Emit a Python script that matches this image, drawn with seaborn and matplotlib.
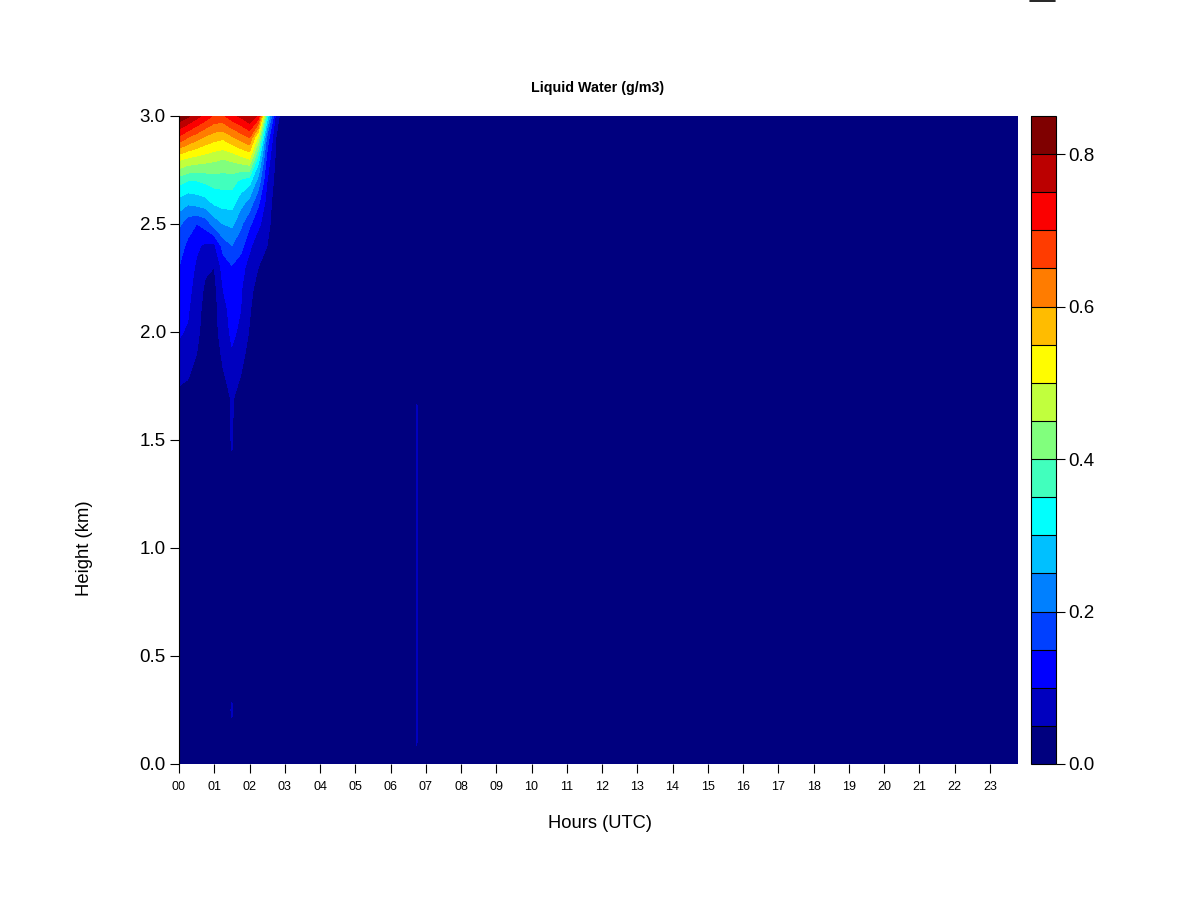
import numpy as np
import matplotlib
matplotlib.use("Agg")
import matplotlib.pyplot as plt
from matplotlib.lines import Line2D
import seaborn as sns

# ---- data ----
# time axis (hours UTC) of the cloud part, then the thin streak near 06:45, then end of day
cloud_times = [0.0, 0.25, 0.5, 0.75, 1.0, 1.25, 1.5, 1.75, 2.0, 2.25, 2.5, 2.75, 3.0]
streak_times = [6.65, 6.75, 6.85]
end_time = 23.8

heights = [0.0, 0.25, 0.5, 0.75, 1.0, 1.25, 1.5, 1.6, 1.7, 1.8, 1.9,
           2.0, 2.1, 2.2, 2.3, 2.4, 2.5, 2.6, 2.7, 2.8, 2.9, 3.0]

# liquid water (g/m3), one row per height, one value per cloud_times entry
cloud_rows = [
    [0.01, 0.01, 0.01, 0.01, 0.01, 0.01, 0.02, 0.01, 0.01, 0, 0, 0, 0],
    [0.01, 0.01, 0.01, 0.01, 0.01, 0.01, 0.055, 0.01, 0.01, 0, 0, 0, 0],
    [0.01, 0.01, 0.01, 0.01, 0.01, 0.01, 0.02, 0.01, 0.01, 0, 0, 0, 0],
    [0.01, 0.01, 0.01, 0.01, 0.01, 0.01, 0.02, 0.01, 0.01, 0, 0, 0, 0],
    [0.01, 0.01, 0.01, 0.01, 0.01, 0.01, 0.02, 0.01, 0.01, 0, 0, 0, 0],
    [0.01, 0.01, 0.01, 0.01, 0.01, 0.01, 0.03, 0.01, 0.01, 0, 0, 0, 0],
    [0.01, 0.01, 0.01, 0.01, 0.01, 0.01, 0.055, 0.01, 0.01, 0, 0, 0, 0],
    [0.02, 0.015, 0.01, 0.01, 0.01, 0.015, 0.055, 0.015, 0.01, 0, 0, 0, 0],
    [0.035, 0.03, 0.02, 0.01, 0.01, 0.03, 0.055, 0.035, 0.01, 0, 0, 0, 0],
    [0.065, 0.055, 0.03, 0.01, 0.01, 0.045, 0.07, 0.05, 0.02, 0, 0, 0, 0],
    [0.09, 0.08, 0.05, 0.02, 0.02, 0.06, 0.095, 0.07, 0.03, 0, 0, 0, 0],
    [0.105, 0.095, 0.06, 0.03, 0.03, 0.075, 0.11, 0.09, 0.045, 0.01, 0, 0, 0],
    [0.115, 0.105, 0.07, 0.03, 0.03, 0.085, 0.115, 0.10, 0.055, 0.015, 0, 0, 0],
    [0.13, 0.115, 0.08, 0.04, 0.035, 0.10, 0.125, 0.105, 0.065, 0.03, 0.01, 0, 0],
    [0.15, 0.13, 0.09, 0.06, 0.05, 0.12, 0.145, 0.12, 0.08, 0.05, 0.03, 0, 0],
    [0.17, 0.14, 0.11, 0.09, 0.09, 0.17, 0.20, 0.17, 0.11, 0.07, 0.05, 0, 0],
    [0.21, 0.17, 0.15, 0.17, 0.22, 0.25, 0.26, 0.21, 0.16, 0.11, 0.07, 0.01, 0],
    [0.28, 0.26, 0.27, 0.28, 0.31, 0.32, 0.32, 0.27, 0.23, 0.16, 0.08, 0.02, 0],
    [0.37, 0.35, 0.35, 0.36, 0.37, 0.37, 0.37, 0.34, 0.32, 0.23, 0.10, 0.03, 0],
    [0.51, 0.49, 0.48, 0.47, 0.46, 0.45, 0.46, 0.48, 0.50, 0.32, 0.13, 0.04, 0],
    [0.69, 0.65, 0.62, 0.59, 0.57, 0.56, 0.59, 0.62, 0.65, 0.48, 0.18, 0.05, 0],
    [0.84, 0.81, 0.77, 0.73, 0.69, 0.69, 0.73, 0.76, 0.80, 0.74, 0.33, 0.08, 0],
]

# faint streak at ~06:45, one value per height
streak_675 = [0.045, 0.06, 0.06, 0.06, 0.06, 0.06, 0.06, 0.06, 0.045, 0, 0,
              0, 0, 0, 0, 0, 0, 0, 0, 0, 0, 0]

levels = np.round(np.arange(0, 0.851, 0.05), 2)
hour_ticks = list(range(24))
hour_labels = [f'{h:02d}' for h in hour_ticks]
height_ticks = [0.0, 0.5, 1.0, 1.5, 2.0, 2.5, 3.0]
cbar_ticks = [0.0, 0.2, 0.4, 0.6, 0.8]

# ---- build the grid ----
times = cloud_times + streak_times + [end_time]
lwc = []
for i, row in enumerate(cloud_rows):
    lwc.append(row + [0, streak_675[i], 0] + [0])
lwc = np.array(lwc)

# ---- style ----
sns.set_style('ticks')
plt.rcParams['font.family'] = ['Liberation Sans', 'DejaVu Sans']
plt.rcParams['text.color'] = 'black'

# jet-like ramp, 17 colours (same as R colorRampPalette)
palette = sns.blend_palette(
    ['#00007F', '#0000FF', '#007FFF', '#00FFFF', '#7FFF7F',
     '#FFFF00', '#FF7F00', '#FF0000', '#7F0000'],
    n_colors=len(levels) - 1)

fig = plt.figure(figsize=(12, 9), dpi=100)
ax = fig.add_axes([179 / 1200, 136 / 900, 839 / 1200, 648 / 900])
cax = fig.add_axes([1031 / 1200, 136 / 900, 24.5 / 1200, 648 / 900])

cs = ax.contourf(times, heights, lwc, levels=levels, colors=palette)
ax.set_xlim(0, end_time)
ax.set_ylim(0, 3.0)

ax.set_xticks(hour_ticks)
ax.set_xticklabels(hour_labels, fontsize=9)
ax.set_yticks(height_ticks)
ax.set_yticklabels([f'{v:.1f}' for v in height_ticks], fontsize=13.5)
ax.tick_params(axis='x', length=6.5, width=0.8, pad=5.5, colors='black')
ax.tick_params(axis='y', length=6.5, width=0.8, pad=3, colors='black')
for side in ['top', 'right', 'bottom']:
    ax.spines[side].set_visible(False)
ax.spines['left'].set_color('black')
ax.spines['left'].set_linewidth(0.8)

cb = fig.colorbar(cs, cax=cax, ticks=cbar_ticks, drawedges=True)
cb.ax.set_yticklabels([f'{v:.1f}' for v in cbar_ticks], fontsize=13.5)
cb.ax.tick_params(length=6.5, width=0.8, pad=3, colors='black')
cb.outline.set_edgecolor('black')
cb.outline.set_linewidth(0.8)
cb.dividers.set_color('black')
cb.dividers.set_linewidth(0.8)

fig.text(598 / 1200, 1 - 88 / 900, 'Liquid Water (g/m3)', ha='center', va='center',
         fontsize=10.3, fontweight='bold')
fig.text(600 / 1200, 1 - 823 / 900, 'Hours (UTC)', ha='center', va='center', fontsize=13.2)
fig.text(84 / 1200, 1 - 548 / 900, 'Height (km)', ha='center', va='center',
         rotation=90, fontsize=13.3)

# small clipped box edge at the top right of the page
fig.add_artist(Line2D([1030 / 1200, 1055 / 1200], [1 - 0.8 / 900, 1 - 0.8 / 900],
                      transform=fig.transFigure, color='black', linewidth=1.2))

fig.savefig('out.png', dpi=100, facecolor='white')
